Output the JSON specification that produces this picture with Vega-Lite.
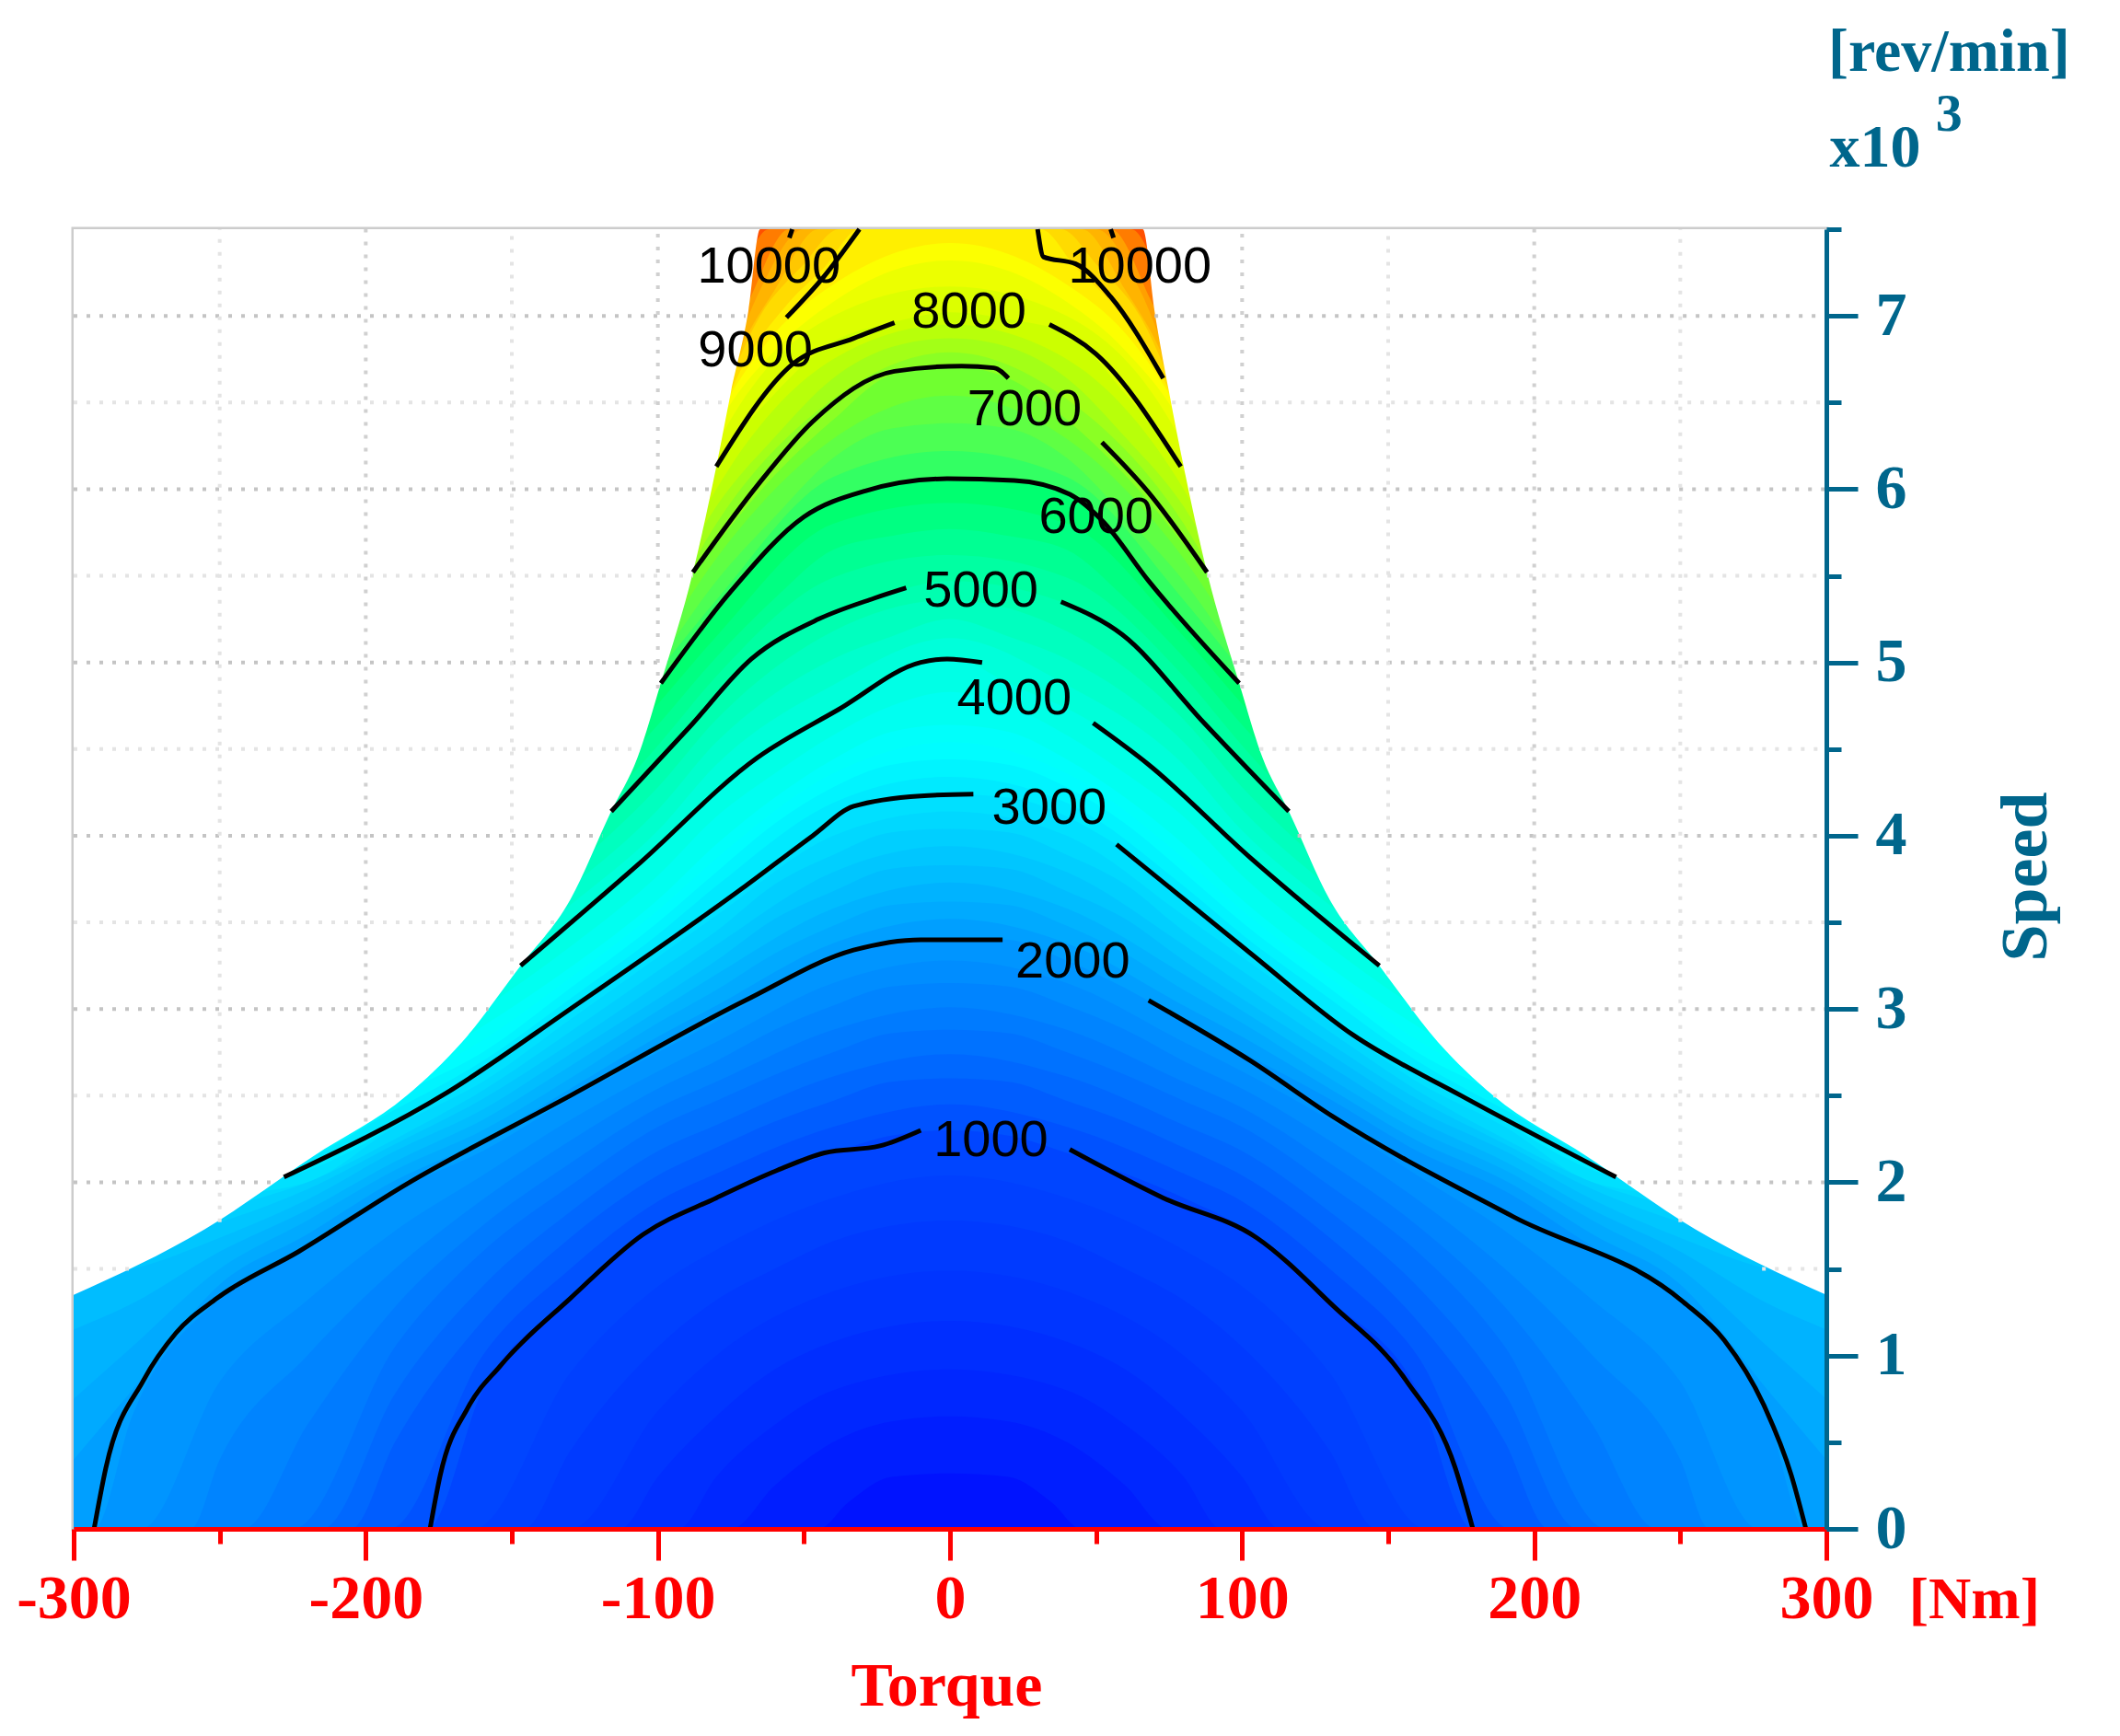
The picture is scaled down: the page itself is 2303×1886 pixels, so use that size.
{"$schema":"https://vega.github.io/schema/vega-lite/v6.json","autosize":"none","padding":{"left":80,"top":249,"right":319,"bottom":225},"width":1904,"height":1412,"background":"white","view":{"stroke":"#cccccc","strokeWidth":5},
"datasets":{
"levels":[
{"l":11000,"t":-300,"s":7.5},{"l":11000,"t":300,"s":7.5},
{"l":10500,"t":-300,"s":2},{"l":10500,"t":-75,"s":7.1},{"l":10500,"t":-62,"s":7.5},{"l":10500,"t":62,"s":7.5},{"l":10500,"t":75,"s":7.1},{"l":10500,"t":300,"s":2},
{"l":10000,"t":-300,"s":2},{"l":10000,"t":-70,"s":7.05},{"l":10000,"t":-55,"s":7.5},{"l":10000,"t":55,"s":7.5},{"l":10000,"t":70,"s":7.05},{"l":10000,"t":300,"s":2},
{"l":9750,"t":-300,"s":2},{"l":9750,"t":-78,"s":6.6},{"l":9750,"t":-65,"s":7.15},{"l":9750,"t":-50,"s":7.5},{"l":9750,"t":50,"s":7.5},{"l":9750,"t":65,"s":7.15},{"l":9750,"t":78,"s":6.6},{"l":9750,"t":300,"s":2},
{"l":9500,"t":-300,"s":2},{"l":9500,"t":-85,"s":6.2},{"l":9500,"t":-72,"s":6.8},{"l":9500,"t":-60,"s":7.15},{"l":9500,"t":-45,"s":7.5},{"l":9500,"t":45,"s":7.5},{"l":9500,"t":60,"s":7.15},{"l":9500,"t":72,"s":6.8},{"l":9500,"t":85,"s":6.2},{"l":9500,"t":300,"s":2},
{"l":9250,"t":-300,"s":2},{"l":9250,"t":-80,"s":6.45},{"l":9250,"t":-65,"s":7.0},{"l":9250,"t":-50,"s":7.3},{"l":9250,"t":-38,"s":7.5},{"l":9250,"t":38,"s":7.5},{"l":9250,"t":50,"s":7.3},{"l":9250,"t":65,"s":7.0},{"l":9250,"t":80,"s":6.45},{"l":9250,"t":300,"s":2},
{"l":9000,"t":-300,"s":2},{"l":9000,"t":-90,"s":5.9},{"l":9000,"t":-73,"s":6.64},{"l":9000,"t":-55,"s":7.08},{"l":9000,"t":-43,"s":7.28},{"l":9000,"t":-31,"s":7.5},{"l":9000,"t":31,"s":7.5},{"l":9000,"t":43,"s":7.28},{"l":9000,"t":55,"s":7.08},{"l":9000,"t":73,"s":6.64},{"l":9000,"t":90,"s":5.9},{"l":9000,"t":300,"s":2},
{"l":8750,"t":-300,"s":2},{"l":8750,"t":-100,"s":5.6},{"l":8750,"t":-80,"s":6.4},{"l":8750,"t":-60,"s":6.9},{"l":8750,"t":-40,"s":7.18},{"l":8750,"t":0,"s":7.42},{"l":8750,"t":40,"s":7.18},{"l":8750,"t":60,"s":6.9},{"l":8750,"t":80,"s":6.4},{"l":8750,"t":100,"s":5.6},{"l":8750,"t":300,"s":2},
{"l":8500,"t":-300,"s":2},{"l":8500,"t":-100,"s":5.5},{"l":8500,"t":-80,"s":6.35},{"l":8500,"t":-60,"s":6.8},{"l":8500,"t":-40,"s":7.08},{"l":8500,"t":-20,"s":7.26},{"l":8500,"t":0,"s":7.32},{"l":8500,"t":20,"s":7.26},{"l":8500,"t":40,"s":7.08},{"l":8500,"t":60,"s":6.8},{"l":8500,"t":80,"s":6.35},{"l":8500,"t":100,"s":5.5},{"l":8500,"t":300,"s":2},
{"l":8250,"t":-300,"s":2},{"l":8250,"t":-100,"s":5.45},{"l":8250,"t":-80,"s":6.25},{"l":8250,"t":-40,"s":7.0},{"l":8250,"t":0,"s":7.17},{"l":8250,"t":40,"s":7.0},{"l":8250,"t":80,"s":6.25},{"l":8250,"t":100,"s":5.45},{"l":8250,"t":300,"s":2},
{"l":8000,"t":-300,"s":2},{"l":8000,"t":-100,"s":5.4},{"l":8000,"t":-80,"s":6.13},{"l":8000,"t":-60,"s":6.55},{"l":8000,"t":-40,"s":6.85},{"l":8000,"t":-20,"s":6.96},{"l":8000,"t":0,"s":7.02},{"l":8000,"t":20,"s":6.98},{"l":8000,"t":40,"s":6.9},{"l":8000,"t":60,"s":6.55},{"l":8000,"t":79,"s":6.13},{"l":8000,"t":100,"s":5.4},{"l":8000,"t":300,"s":2},
{"l":7750,"t":-300,"s":2},{"l":7750,"t":-100,"s":5.35},{"l":7750,"t":-80,"s":6.0},{"l":7750,"t":-40,"s":6.75},{"l":7750,"t":0,"s":6.95},{"l":7750,"t":40,"s":6.75},{"l":7750,"t":80,"s":6.0},{"l":7750,"t":100,"s":5.35},{"l":7750,"t":300,"s":2},
{"l":7500,"t":-300,"s":2},{"l":7500,"t":-100,"s":5.3},{"l":7500,"t":-80,"s":5.9},{"l":7500,"t":-60,"s":6.3},{"l":7500,"t":-40,"s":6.64},{"l":7500,"t":-20,"s":6.82},{"l":7500,"t":0,"s":6.87},{"l":7500,"t":20,"s":6.82},{"l":7500,"t":40,"s":6.64},{"l":7500,"t":60,"s":6.3},{"l":7500,"t":80,"s":5.9},{"l":7500,"t":100,"s":5.3},{"l":7500,"t":300,"s":2},
{"l":7250,"t":-300,"s":2},{"l":7250,"t":-100,"s":5.2},{"l":7250,"t":-80,"s":5.8},{"l":7250,"t":-40,"s":6.52},{"l":7250,"t":0,"s":6.79},{"l":7250,"t":40,"s":6.52},{"l":7250,"t":80,"s":5.8},{"l":7250,"t":100,"s":5.2},{"l":7250,"t":300,"s":2},
{"l":7000,"t":-300,"s":2},{"l":7000,"t":-88,"s":5.52},{"l":7000,"t":-60,"s":6.08},{"l":7000,"t":-40,"s":6.4},{"l":7000,"t":-20,"s":6.66},{"l":7000,"t":0,"s":6.71},{"l":7000,"t":20,"s":6.64},{"l":7000,"t":40,"s":6.4},{"l":7000,"t":60,"s":6.08},{"l":7000,"t":88,"s":5.52},{"l":7000,"t":300,"s":2},
{"l":6750,"t":-300,"s":2},{"l":6750,"t":-100,"s":5.1},{"l":6750,"t":-80,"s":5.6},{"l":6750,"t":-40,"s":6.29},{"l":6750,"t":0,"s":6.54},{"l":6750,"t":40,"s":6.29},{"l":6750,"t":80,"s":5.6},{"l":6750,"t":100,"s":5.1},{"l":6750,"t":300,"s":2},
{"l":6500,"t":-300,"s":2},{"l":6500,"t":-100,"s":5.0},{"l":6500,"t":-80,"s":5.47},{"l":6500,"t":-60,"s":5.84},{"l":6500,"t":-40,"s":6.18},{"l":6500,"t":-20,"s":6.35},{"l":6500,"t":0,"s":6.38},{"l":6500,"t":20,"s":6.35},{"l":6500,"t":40,"s":6.18},{"l":6500,"t":60,"s":5.84},{"l":6500,"t":80,"s":5.47},{"l":6500,"t":100,"s":5.0},{"l":6500,"t":300,"s":2},
{"l":6250,"t":-300,"s":2},{"l":6250,"t":-100,"s":4.95},{"l":6250,"t":-80,"s":5.36},{"l":6250,"t":-40,"s":6.07},{"l":6250,"t":0,"s":6.22},{"l":6250,"t":40,"s":6.07},{"l":6250,"t":80,"s":5.36},{"l":6250,"t":100,"s":4.95},{"l":6250,"t":300,"s":2},
{"l":6000,"t":-300,"s":2},{"l":6000,"t":-99,"s":4.88},{"l":6000,"t":-75,"s":5.41},{"l":6000,"t":-50,"s":5.84},{"l":6000,"t":-29,"s":5.99},{"l":6000,"t":0,"s":6.06},{"l":6000,"t":22,"s":6.05},{"l":6000,"t":41,"s":5.97},{"l":6000,"t":52,"s":5.82},{"l":6000,"t":68,"s":5.47},{"l":6000,"t":99,"s":4.88},{"l":6000,"t":300,"s":2},
{"l":5750,"t":-300,"s":2},{"l":5750,"t":-100,"s":4.76},{"l":5750,"t":-80,"s":5.15},{"l":5750,"t":-40,"s":5.8},{"l":5750,"t":0,"s":5.92},{"l":5750,"t":40,"s":5.8},{"l":5750,"t":80,"s":5.15},{"l":5750,"t":100,"s":4.76},{"l":5750,"t":300,"s":2},
{"l":5500,"t":-300,"s":2},{"l":5500,"t":-100,"s":4.64},{"l":5500,"t":-80,"s":5.03},{"l":5500,"t":-60,"s":5.37},{"l":5500,"t":-40,"s":5.65},{"l":5500,"t":-20,"s":5.73},{"l":5500,"t":0,"s":5.77},{"l":5500,"t":20,"s":5.73},{"l":5500,"t":40,"s":5.65},{"l":5500,"t":60,"s":5.37},{"l":5500,"t":80,"s":5.03},{"l":5500,"t":100,"s":4.64},{"l":5500,"t":300,"s":2},
{"l":5250,"t":-300,"s":2},{"l":5250,"t":-100,"s":4.52},{"l":5250,"t":-80,"s":4.92},{"l":5250,"t":-40,"s":5.49},{"l":5250,"t":0,"s":5.62},{"l":5250,"t":40,"s":5.49},{"l":5250,"t":80,"s":4.92},{"l":5250,"t":100,"s":4.52},{"l":5250,"t":300,"s":2},
{"l":5000,"t":-300,"s":2},{"l":5000,"t":-116,"s":4.14},{"l":5000,"t":-89,"s":4.63},{"l":5000,"t":-68,"s":5.02},{"l":5000,"t":-45,"s":5.25},{"l":5000,"t":-26,"s":5.37},{"l":5000,"t":0,"s":5.47},{"l":5000,"t":38,"s":5.35},{"l":5000,"t":59,"s":5.16},{"l":5000,"t":87,"s":4.65},{"l":5000,"t":116,"s":4.14},{"l":5000,"t":300,"s":2},
{"l":4750,"t":-300,"s":2},{"l":4750,"t":-130,"s":3.8},{"l":4750,"t":-100,"s":4.28},{"l":4750,"t":-80,"s":4.67},{"l":4750,"t":-40,"s":5.18},{"l":4750,"t":0,"s":5.36},{"l":4750,"t":40,"s":5.18},{"l":4750,"t":80,"s":4.67},{"l":4750,"t":100,"s":4.28},{"l":4750,"t":130,"s":3.8},{"l":4750,"t":300,"s":2},
{"l":4500,"t":-300,"s":2},{"l":4500,"t":-130,"s":3.7},{"l":4500,"t":-100,"s":4.15},{"l":4500,"t":-80,"s":4.54},{"l":4500,"t":-60,"s":4.82},{"l":4500,"t":-40,"s":5.02},{"l":4500,"t":-20,"s":5.15},{"l":4500,"t":0,"s":5.25},{"l":4500,"t":20,"s":5.15},{"l":4500,"t":40,"s":5.02},{"l":4500,"t":60,"s":4.82},{"l":4500,"t":80,"s":4.54},{"l":4500,"t":100,"s":4.15},{"l":4500,"t":130,"s":3.7},{"l":4500,"t":300,"s":2},
{"l":4250,"t":-300,"s":2},{"l":4250,"t":-130,"s":3.6},{"l":4250,"t":-100,"s":4.03},{"l":4250,"t":-80,"s":4.41},{"l":4250,"t":-40,"s":4.87},{"l":4250,"t":0,"s":5.14},{"l":4250,"t":40,"s":4.87},{"l":4250,"t":80,"s":4.41},{"l":4250,"t":100,"s":4.03},{"l":4250,"t":130,"s":3.6},{"l":4250,"t":300,"s":2},
{"l":4000,"t":-300,"s":1.9},{"l":4000,"t":-147,"s":3.25},{"l":4000,"t":-107,"s":3.83},{"l":4000,"t":-66,"s":4.45},{"l":4000,"t":-38,"s":4.73},{"l":4000,"t":-10,"s":5.0},{"l":4000,"t":0,"s":5.03},{"l":4000,"t":20,"s":4.88},{"l":4000,"t":49,"s":4.65},{"l":4000,"t":68,"s":4.41},{"l":4000,"t":103,"s":3.87},{"l":4000,"t":147,"s":3.25},{"l":4000,"t":300,"s":1.9},
{"l":3750,"t":-300,"s":1.8},{"l":3750,"t":-160,"s":3.0},{"l":3750,"t":-130,"s":3.36},{"l":3750,"t":-100,"s":3.77},{"l":3750,"t":-80,"s":4.11},{"l":3750,"t":-60,"s":4.36},{"l":3750,"t":-40,"s":4.58},{"l":3750,"t":-20,"s":4.75},{"l":3750,"t":0,"s":4.83},{"l":3750,"t":20,"s":4.75},{"l":3750,"t":40,"s":4.58},{"l":3750,"t":60,"s":4.36},{"l":3750,"t":80,"s":4.11},{"l":3750,"t":100,"s":3.77},{"l":3750,"t":130,"s":3.36},{"l":3750,"t":160,"s":3.0},{"l":3750,"t":300,"s":1.8},
{"l":3500,"t":-300,"s":1.7},{"l":3500,"t":-190,"s":2.6},{"l":3500,"t":-160,"s":2.9},{"l":3500,"t":-130,"s":3.24},{"l":3500,"t":-100,"s":3.63},{"l":3500,"t":-80,"s":3.95},{"l":3500,"t":-60,"s":4.22},{"l":3500,"t":-40,"s":4.44},{"l":3500,"t":-20,"s":4.6},{"l":3500,"t":0,"s":4.64},{"l":3500,"t":20,"s":4.6},{"l":3500,"t":40,"s":4.44},{"l":3500,"t":60,"s":4.22},{"l":3500,"t":80,"s":3.95},{"l":3500,"t":100,"s":3.63},{"l":3500,"t":130,"s":3.24},{"l":3500,"t":160,"s":2.9},{"l":3500,"t":190,"s":2.6},{"l":3500,"t":300,"s":1.7},
{"l":3375,"t":-300,"s":2},{"l":3375,"t":-190,"s":2.55},{"l":3375,"t":-160,"s":2.82},{"l":3375,"t":-130,"s":3.18},{"l":3375,"t":-100,"s":3.57},{"l":3375,"t":-80,"s":3.87},{"l":3375,"t":-40,"s":4.36},{"l":3375,"t":0,"s":4.54},{"l":3375,"t":40,"s":4.36},{"l":3375,"t":80,"s":3.87},{"l":3375,"t":100,"s":3.57},{"l":3375,"t":130,"s":3.18},{"l":3375,"t":160,"s":2.82},{"l":3375,"t":190,"s":2.55},{"l":3375,"t":300,"s":2},
{"l":3250,"t":-300,"s":2},{"l":3250,"t":-250,"s":2.1},{"l":3250,"t":-190,"s":2.5},{"l":3250,"t":-160,"s":2.75},{"l":3250,"t":-130,"s":3.12},{"l":3250,"t":-100,"s":3.5},{"l":3250,"t":-80,"s":3.79},{"l":3250,"t":-60,"s":4.07},{"l":3250,"t":-40,"s":4.28},{"l":3250,"t":-20,"s":4.41},{"l":3250,"t":0,"s":4.44},{"l":3250,"t":20,"s":4.41},{"l":3250,"t":40,"s":4.28},{"l":3250,"t":60,"s":4.07},{"l":3250,"t":80,"s":3.79},{"l":3250,"t":100,"s":3.5},{"l":3250,"t":130,"s":3.12},{"l":3250,"t":160,"s":2.75},{"l":3250,"t":190,"s":2.5},{"l":3250,"t":250,"s":2.1},{"l":3250,"t":300,"s":2},
{"l":3125,"t":-300,"s":2},{"l":3125,"t":-228,"s":2.1},{"l":3125,"t":-190,"s":2.42},{"l":3125,"t":-160,"s":2.7},{"l":3125,"t":-130,"s":3.06},{"l":3125,"t":-100,"s":3.43},{"l":3125,"t":-80,"s":3.71},{"l":3125,"t":-40,"s":4.19},{"l":3125,"t":0,"s":4.34},{"l":3125,"t":40,"s":4.19},{"l":3125,"t":80,"s":3.71},{"l":3125,"t":100,"s":3.43},{"l":3125,"t":130,"s":3.06},{"l":3125,"t":160,"s":2.7},{"l":3125,"t":190,"s":2.42},{"l":3125,"t":228,"s":2.1},{"l":3125,"t":300,"s":2},
{"l":3000,"t":-300,"s":1.9},{"l":3000,"t":-228,"s":2.03},{"l":3000,"t":-172,"s":2.52},{"l":3000,"t":-130,"s":3.0},{"l":3000,"t":-100,"s":3.37},{"l":3000,"t":-70,"s":3.71},{"l":3000,"t":-47,"s":4.0},{"l":3000,"t":-33,"s":4.17},{"l":3000,"t":0,"s":4.24},{"l":3000,"t":20,"s":4.22},{"l":3000,"t":57,"s":3.95},{"l":3000,"t":103,"s":3.32},{"l":3000,"t":138,"s":2.85},{"l":3000,"t":175,"s":2.5},{"l":3000,"t":228,"s":2.03},{"l":3000,"t":300,"s":1.9},
{"l":2875,"t":-300,"s":1.8},{"l":2875,"t":-250,"s":1.92},{"l":2875,"t":-220,"s":2.0},{"l":2875,"t":-190,"s":2.32},{"l":2875,"t":-160,"s":2.58},{"l":2875,"t":-130,"s":2.94},{"l":2875,"t":-100,"s":3.3},{"l":2875,"t":-80,"s":3.54},{"l":2875,"t":-40,"s":4.0},{"l":2875,"t":0,"s":4.14},{"l":2875,"t":40,"s":4.0},{"l":2875,"t":80,"s":3.54},{"l":2875,"t":100,"s":3.3},{"l":2875,"t":130,"s":2.94},{"l":2875,"t":160,"s":2.58},{"l":2875,"t":190,"s":2.32},{"l":2875,"t":220,"s":2.0},{"l":2875,"t":250,"s":1.92},{"l":2875,"t":300,"s":1.8},
{"l":2750,"t":-300,"s":1.7},{"l":2750,"t":-250,"s":1.85},{"l":2750,"t":-220,"s":2.0},{"l":2750,"t":-190,"s":2.25},{"l":2750,"t":-160,"s":2.53},{"l":2750,"t":-130,"s":2.87},{"l":2750,"t":-100,"s":3.22},{"l":2750,"t":-80,"s":3.45},{"l":2750,"t":-60,"s":3.72},{"l":2750,"t":-40,"s":3.89},{"l":2750,"t":-20,"s":4.02},{"l":2750,"t":0,"s":4.04},{"l":2750,"t":20,"s":4.02},{"l":2750,"t":40,"s":3.89},{"l":2750,"t":60,"s":3.72},{"l":2750,"t":80,"s":3.45},{"l":2750,"t":100,"s":3.22},{"l":2750,"t":130,"s":2.87},{"l":2750,"t":160,"s":2.53},{"l":2750,"t":190,"s":2.25},{"l":2750,"t":220,"s":2.0},{"l":2750,"t":250,"s":1.85},{"l":2750,"t":300,"s":1.7},
{"l":2625,"t":-300,"s":1.6},{"l":2625,"t":-250,"s":1.77},{"l":2625,"t":-220,"s":1.96},{"l":2625,"t":-190,"s":2.22},{"l":2625,"t":-160,"s":2.48},{"l":2625,"t":-130,"s":2.8},{"l":2625,"t":-100,"s":3.14},{"l":2625,"t":-80,"s":3.37},{"l":2625,"t":-40,"s":3.79},{"l":2625,"t":0,"s":3.94},{"l":2625,"t":40,"s":3.79},{"l":2625,"t":80,"s":3.37},{"l":2625,"t":100,"s":3.14},{"l":2625,"t":130,"s":2.8},{"l":2625,"t":160,"s":2.48},{"l":2625,"t":190,"s":2.22},{"l":2625,"t":220,"s":1.96},{"l":2625,"t":250,"s":1.77},{"l":2625,"t":300,"s":1.6},
{"l":2500,"t":-300,"s":1.45},{"l":2500,"t":-280,"s":1.5},{"l":2500,"t":-250,"s":1.68},{"l":2500,"t":-220,"s":1.9},{"l":2500,"t":-190,"s":2.18},{"l":2500,"t":-160,"s":2.42},{"l":2500,"t":-130,"s":2.74},{"l":2500,"t":-100,"s":3.06},{"l":2500,"t":-80,"s":3.28},{"l":2500,"t":-60,"s":3.52},{"l":2500,"t":-40,"s":3.68},{"l":2500,"t":-20,"s":3.81},{"l":2500,"t":0,"s":3.83},{"l":2500,"t":20,"s":3.81},{"l":2500,"t":40,"s":3.68},{"l":2500,"t":60,"s":3.52},{"l":2500,"t":80,"s":3.28},{"l":2500,"t":100,"s":3.06},{"l":2500,"t":130,"s":2.74},{"l":2500,"t":160,"s":2.42},{"l":2500,"t":190,"s":2.18},{"l":2500,"t":220,"s":1.9},{"l":2500,"t":250,"s":1.68},{"l":2500,"t":280,"s":1.5},{"l":2500,"t":300,"s":1.45},
{"l":2375,"t":-300,"s":1.15},{"l":2375,"t":-280,"s":1.3},{"l":2375,"t":-250,"s":1.6},{"l":2375,"t":-220,"s":1.84},{"l":2375,"t":-190,"s":2.12},{"l":2375,"t":-160,"s":2.36},{"l":2375,"t":-130,"s":2.67},{"l":2375,"t":-100,"s":2.99},{"l":2375,"t":-80,"s":3.2},{"l":2375,"t":-40,"s":3.58},{"l":2375,"t":0,"s":3.73},{"l":2375,"t":40,"s":3.58},{"l":2375,"t":80,"s":3.2},{"l":2375,"t":100,"s":2.99},{"l":2375,"t":130,"s":2.67},{"l":2375,"t":160,"s":2.36},{"l":2375,"t":190,"s":2.12},{"l":2375,"t":220,"s":1.84},{"l":2375,"t":250,"s":1.6},{"l":2375,"t":280,"s":1.3},{"l":2375,"t":300,"s":1.15},
{"l":2250,"t":-300,"s":0.75},{"l":2250,"t":-280,"s":1.05},{"l":2250,"t":-250,"s":1.5},{"l":2250,"t":-220,"s":1.78},{"l":2250,"t":-190,"s":2.07},{"l":2250,"t":-160,"s":2.3},{"l":2250,"t":-130,"s":2.6},{"l":2250,"t":-100,"s":2.92},{"l":2250,"t":-80,"s":3.11},{"l":2250,"t":-60,"s":3.32},{"l":2250,"t":-40,"s":3.48},{"l":2250,"t":-20,"s":3.6},{"l":2250,"t":0,"s":3.62},{"l":2250,"t":20,"s":3.6},{"l":2250,"t":40,"s":3.48},{"l":2250,"t":60,"s":3.32},{"l":2250,"t":80,"s":3.11},{"l":2250,"t":100,"s":2.92},{"l":2250,"t":130,"s":2.6},{"l":2250,"t":160,"s":2.3},{"l":2250,"t":190,"s":2.07},{"l":2250,"t":220,"s":1.78},{"l":2250,"t":250,"s":1.5},{"l":2250,"t":280,"s":1.05},{"l":2250,"t":300,"s":0.75},
{"l":2125,"t":-300,"s":0.4},{"l":2125,"t":-280,"s":0.8},{"l":2125,"t":-250,"s":1.41},{"l":2125,"t":-220,"s":1.7},{"l":2125,"t":-190,"s":2.01},{"l":2125,"t":-160,"s":2.24},{"l":2125,"t":-130,"s":2.54},{"l":2125,"t":-100,"s":2.84},{"l":2125,"t":-80,"s":3.02},{"l":2125,"t":-40,"s":3.38},{"l":2125,"t":0,"s":3.52},{"l":2125,"t":40,"s":3.38},{"l":2125,"t":80,"s":3.02},{"l":2125,"t":100,"s":2.84},{"l":2125,"t":130,"s":2.54},{"l":2125,"t":160,"s":2.24},{"l":2125,"t":190,"s":2.01},{"l":2125,"t":220,"s":1.7},{"l":2125,"t":250,"s":1.41},{"l":2125,"t":280,"s":0.8},{"l":2125,"t":300,"s":0.4},
{"l":2000,"t":-300,"s":0},{"l":2000,"t":-293,"s":0},{"l":2000,"t":-280,"s":0.65},{"l":2000,"t":-250,"s":1.33},{"l":2000,"t":-220,"s":1.63},{"l":2000,"t":-190,"s":1.95},{"l":2000,"t":-160,"s":2.18},{"l":2000,"t":-130,"s":2.48},{"l":2000,"t":-100,"s":2.75},{"l":2000,"t":-80,"s":2.93},{"l":2000,"t":-60,"s":3.12},{"l":2000,"t":-40,"s":3.28},{"l":2000,"t":-20,"s":3.38},{"l":2000,"t":0,"s":3.41},{"l":2000,"t":20,"s":3.4},{"l":2000,"t":40,"s":3.28},{"l":2000,"t":60,"s":3.12},{"l":2000,"t":80,"s":2.93},{"l":2000,"t":100,"s":2.75},{"l":2000,"t":130,"s":2.48},{"l":2000,"t":160,"s":2.18},{"l":2000,"t":190,"s":1.95},{"l":2000,"t":220,"s":1.63},{"l":2000,"t":250,"s":1.33},{"l":2000,"t":280,"s":0.65},{"l":2000,"t":293,"s":0},{"l":2000,"t":300,"s":0},
{"l":1875,"t":-300,"s":0},{"l":1875,"t":-277,"s":0},{"l":1875,"t":-250,"s":0.85},{"l":1875,"t":-220,"s":1.32},{"l":1875,"t":-190,"s":1.72},{"l":1875,"t":-160,"s":2.04},{"l":1875,"t":-130,"s":2.36},{"l":1875,"t":-100,"s":2.64},{"l":1875,"t":-80,"s":2.81},{"l":1875,"t":-40,"s":3.15},{"l":1875,"t":0,"s":3.28},{"l":1875,"t":40,"s":3.15},{"l":1875,"t":80,"s":2.81},{"l":1875,"t":100,"s":2.64},{"l":1875,"t":130,"s":2.36},{"l":1875,"t":160,"s":2.04},{"l":1875,"t":190,"s":1.72},{"l":1875,"t":220,"s":1.32},{"l":1875,"t":250,"s":0.85},{"l":1875,"t":277,"s":0},{"l":1875,"t":300,"s":0},
{"l":1750,"t":-300,"s":0},{"l":1750,"t":-260,"s":0},{"l":1750,"t":-250,"s":0.4},{"l":1750,"t":-220,"s":1.0},{"l":1750,"t":-190,"s":1.5},{"l":1750,"t":-160,"s":1.9},{"l":1750,"t":-130,"s":2.24},{"l":1750,"t":-100,"s":2.54},{"l":1750,"t":-80,"s":2.7},{"l":1750,"t":-60,"s":2.88},{"l":1750,"t":-40,"s":3.02},{"l":1750,"t":-20,"s":3.13},{"l":1750,"t":0,"s":3.15},{"l":1750,"t":20,"s":3.13},{"l":1750,"t":40,"s":3.02},{"l":1750,"t":60,"s":2.88},{"l":1750,"t":80,"s":2.7},{"l":1750,"t":100,"s":2.54},{"l":1750,"t":130,"s":2.24},{"l":1750,"t":160,"s":1.9},{"l":1750,"t":190,"s":1.5},{"l":1750,"t":220,"s":1.0},{"l":1750,"t":250,"s":0.4},{"l":1750,"t":260,"s":0},{"l":1750,"t":300,"s":0},
{"l":1625,"t":-300,"s":0},{"l":1625,"t":-242,"s":0},{"l":1625,"t":-220,"s":0.6},{"l":1625,"t":-190,"s":1.28},{"l":1625,"t":-160,"s":1.75},{"l":1625,"t":-130,"s":2.11},{"l":1625,"t":-100,"s":2.43},{"l":1625,"t":-80,"s":2.58},{"l":1625,"t":-40,"s":2.88},{"l":1625,"t":0,"s":3.01},{"l":1625,"t":40,"s":2.88},{"l":1625,"t":80,"s":2.58},{"l":1625,"t":100,"s":2.43},{"l":1625,"t":130,"s":2.11},{"l":1625,"t":160,"s":1.75},{"l":1625,"t":190,"s":1.28},{"l":1625,"t":220,"s":0.6},{"l":1625,"t":242,"s":0},{"l":1625,"t":300,"s":0},
{"l":1500,"t":-300,"s":0},{"l":1500,"t":-225,"s":0},{"l":1500,"t":-190,"s":1.05},{"l":1500,"t":-160,"s":1.6},{"l":1500,"t":-130,"s":1.98},{"l":1500,"t":-100,"s":2.32},{"l":1500,"t":-80,"s":2.47},{"l":1500,"t":-60,"s":2.62},{"l":1500,"t":-40,"s":2.75},{"l":1500,"t":-20,"s":2.86},{"l":1500,"t":0,"s":2.88},{"l":1500,"t":20,"s":2.86},{"l":1500,"t":40,"s":2.75},{"l":1500,"t":60,"s":2.62},{"l":1500,"t":80,"s":2.47},{"l":1500,"t":100,"s":2.32},{"l":1500,"t":130,"s":1.98},{"l":1500,"t":160,"s":1.6},{"l":1500,"t":190,"s":1.05},{"l":1500,"t":225,"s":0},{"l":1500,"t":300,"s":0},
{"l":1375,"t":-300,"s":0},{"l":1375,"t":-215,"s":0},{"l":1375,"t":-190,"s":0.78},{"l":1375,"t":-160,"s":1.4},{"l":1375,"t":-130,"s":1.83},{"l":1375,"t":-100,"s":2.18},{"l":1375,"t":-80,"s":2.33},{"l":1375,"t":-40,"s":2.61},{"l":1375,"t":0,"s":2.74},{"l":1375,"t":40,"s":2.61},{"l":1375,"t":80,"s":2.33},{"l":1375,"t":100,"s":2.18},{"l":1375,"t":130,"s":1.83},{"l":1375,"t":160,"s":1.4},{"l":1375,"t":190,"s":0.78},{"l":1375,"t":215,"s":0},{"l":1375,"t":300,"s":0},
{"l":1250,"t":-300,"s":0},{"l":1250,"t":-205,"s":0},{"l":1250,"t":-190,"s":0.5},{"l":1250,"t":-160,"s":1.2},{"l":1250,"t":-130,"s":1.68},{"l":1250,"t":-100,"s":2.04},{"l":1250,"t":-80,"s":2.2},{"l":1250,"t":-60,"s":2.35},{"l":1250,"t":-40,"s":2.47},{"l":1250,"t":-20,"s":2.58},{"l":1250,"t":0,"s":2.6},{"l":1250,"t":20,"s":2.58},{"l":1250,"t":40,"s":2.47},{"l":1250,"t":60,"s":2.35},{"l":1250,"t":80,"s":2.2},{"l":1250,"t":100,"s":2.04},{"l":1250,"t":130,"s":1.68},{"l":1250,"t":160,"s":1.2},{"l":1250,"t":190,"s":0.5},{"l":1250,"t":205,"s":0},{"l":1250,"t":300,"s":0},
{"l":1125,"t":-300,"s":0},{"l":1125,"t":-192,"s":0},{"l":1125,"t":-160,"s":1.0},{"l":1125,"t":-130,"s":1.5},{"l":1125,"t":-100,"s":1.89},{"l":1125,"t":-80,"s":2.05},{"l":1125,"t":-40,"s":2.32},{"l":1125,"t":0,"s":2.45},{"l":1125,"t":40,"s":2.32},{"l":1125,"t":80,"s":2.05},{"l":1125,"t":100,"s":1.89},{"l":1125,"t":130,"s":1.5},{"l":1125,"t":160,"s":1.0},{"l":1125,"t":192,"s":0},{"l":1125,"t":300,"s":0},
{"l":1000,"t":-300,"s":0},{"l":1000,"t":-179,"s":0},{"l":1000,"t":-160,"s":0.8},{"l":1000,"t":-130,"s":1.32},{"l":1000,"t":-100,"s":1.74},{"l":1000,"t":-80,"s":1.91},{"l":1000,"t":-60,"s":2.05},{"l":1000,"t":-40,"s":2.17},{"l":1000,"t":-20,"s":2.27},{"l":1000,"t":0,"s":2.3},{"l":1000,"t":20,"s":2.27},{"l":1000,"t":40,"s":2.17},{"l":1000,"t":60,"s":2.05},{"l":1000,"t":80,"s":1.91},{"l":1000,"t":100,"s":1.74},{"l":1000,"t":130,"s":1.32},{"l":1000,"t":160,"s":0.8},{"l":1000,"t":179,"s":0},{"l":1000,"t":300,"s":0},
{"l":875,"t":-300,"s":0},{"l":875,"t":-163,"s":0},{"l":875,"t":-130,"s":0.9},{"l":875,"t":-100,"s":1.4},{"l":875,"t":-80,"s":1.61},{"l":875,"t":-40,"s":1.91},{"l":875,"t":0,"s":2.04},{"l":875,"t":40,"s":1.91},{"l":875,"t":80,"s":1.61},{"l":875,"t":100,"s":1.4},{"l":875,"t":130,"s":0.9},{"l":875,"t":163,"s":0},{"l":875,"t":300,"s":0},
{"l":750,"t":-300,"s":0},{"l":750,"t":-146,"s":0},{"l":750,"t":-130,"s":0.45},{"l":750,"t":-100,"s":1.05},{"l":750,"t":-80,"s":1.32},{"l":750,"t":-60,"s":1.5},{"l":750,"t":-40,"s":1.66},{"l":750,"t":-20,"s":1.75},{"l":750,"t":0,"s":1.78},{"l":750,"t":20,"s":1.75},{"l":750,"t":40,"s":1.66},{"l":750,"t":60,"s":1.5},{"l":750,"t":80,"s":1.32},{"l":750,"t":100,"s":1.05},{"l":750,"t":130,"s":0.45},{"l":750,"t":146,"s":0},{"l":750,"t":300,"s":0},
{"l":625,"t":-300,"s":0},{"l":625,"t":-130,"s":0},{"l":625,"t":-100,"s":0.68},{"l":625,"t":-80,"s":1.0},{"l":625,"t":-40,"s":1.37},{"l":625,"t":0,"s":1.49},{"l":625,"t":40,"s":1.37},{"l":625,"t":80,"s":1.0},{"l":625,"t":100,"s":0.68},{"l":625,"t":130,"s":0},{"l":625,"t":300,"s":0},
{"l":500,"t":-300,"s":0},{"l":500,"t":-113,"s":0},{"l":500,"t":-100,"s":0.3},{"l":500,"t":-80,"s":0.65},{"l":500,"t":-60,"s":0.92},{"l":500,"t":-40,"s":1.08},{"l":500,"t":-20,"s":1.17},{"l":500,"t":0,"s":1.2},{"l":500,"t":20,"s":1.17},{"l":500,"t":40,"s":1.08},{"l":500,"t":60,"s":0.92},{"l":500,"t":80,"s":0.65},{"l":500,"t":100,"s":0.3},{"l":500,"t":113,"s":0},{"l":500,"t":300,"s":0},
{"l":375,"t":-300,"s":0},{"l":375,"t":-93,"s":0},{"l":375,"t":-80,"s":0.3},{"l":375,"t":-60,"s":0.6},{"l":375,"t":-40,"s":0.8},{"l":375,"t":0,"s":0.92},{"l":375,"t":40,"s":0.8},{"l":375,"t":60,"s":0.6},{"l":375,"t":80,"s":0.3},{"l":375,"t":93,"s":0},{"l":375,"t":300,"s":0},
{"l":250,"t":-300,"s":0},{"l":250,"t":-75,"s":0},{"l":250,"t":-60,"s":0.25},{"l":250,"t":-40,"s":0.5},{"l":250,"t":-20,"s":0.62},{"l":250,"t":0,"s":0.65},{"l":250,"t":20,"s":0.62},{"l":250,"t":40,"s":0.5},{"l":250,"t":60,"s":0.25},{"l":250,"t":75,"s":0},{"l":250,"t":300,"s":0},
{"l":125,"t":-300,"s":0},{"l":125,"t":-45,"s":0},{"l":125,"t":-35,"s":0.15},{"l":125,"t":-20,"s":0.3},{"l":125,"t":0,"s":0.32},{"l":125,"t":20,"s":0.3},{"l":125,"t":35,"s":0.15},{"l":125,"t":45,"s":0},{"l":125,"t":300,"s":0}
],
"envelope":[
{"t":-300,"s":1.35,"s2":7.5},{"t":-255,"s":1.73,"s2":7.5},{"t":-218,"s":2.15,"s2":7.5},{"t":-186,"s":2.5,"s2":7.5},{"t":-167,"s":2.81,"s2":7.5},{"t":-147,"s":3.25,"s2":7.5},{"t":-130,"s":3.63,"s2":7.5},{"t":-116,"s":4.14,"s2":7.5},{"t":-107,"s":4.45,"s2":7.5},{"t":-99,"s":4.88,"s2":7.5},{"t":-88,"s":5.52,"s2":7.5},{"t":-80,"s":6.13,"s2":7.5},{"t":-75,"s":6.56,"s2":7.5},{"t":-69,"s":7.03,"s2":7.5},{"t":-65,"s":7.5,"s2":7.5},
{"t":66,"s":7.5,"s2":7.5},{"t":70,"s":7.03,"s2":7.5},{"t":75,"s":6.56,"s2":7.5},{"t":80,"s":6.13,"s2":7.5},{"t":88,"s":5.52,"s2":7.5},{"t":99,"s":4.88,"s2":7.5},{"t":107,"s":4.45,"s2":7.5},{"t":116,"s":4.14,"s2":7.5},{"t":130,"s":3.63,"s2":7.5},{"t":147,"s":3.25,"s2":7.5},{"t":167,"s":2.81,"s2":7.5},{"t":186,"s":2.5,"s2":7.5},{"t":218,"s":2.15,"s2":7.5},{"t":255,"s":1.73,"s2":7.5},{"t":300,"s":1.35,"s2":7.5}
],
"gridH":[
{"s":1.5,"t":-300,"t2":-278},{"s":1.5,"t":278,"t2":300},{"s":2,"t":-300,"t2":-232},{"s":2,"t":232,"t2":300},{"s":2.5,"t":-300,"t2":-186},{"s":2.5,"t":186,"t2":300},{"s":3,"t":-300,"t2":-158},{"s":3,"t":158,"t2":300},{"s":3.5,"t":-300,"t2":-135},{"s":3.5,"t":135,"t2":300},{"s":4,"t":-300,"t2":-119},{"s":4,"t":119,"t2":300},{"s":4.5,"t":-300,"t2":-106},{"s":4.5,"t":106,"t2":300},{"s":5,"t":-300,"t2":-97},{"s":5,"t":97,"t2":300},{"s":5.5,"t":-300,"t2":-88},{"s":5.5,"t":88,"t2":300},{"s":6,"t":-300,"t2":-82},{"s":6,"t":82,"t2":300},{"s":6.5,"t":-300,"t2":-76},{"s":6.5,"t":76,"t2":300},{"s":7,"t":-300,"t2":-70},{"s":7,"t":70,"t2":300}
],
"gridV":[
{"t":-250,"s":1.77,"s2":7.5},{"t":-200,"s":2.35,"s2":7.5},{"t":-150,"s":3.2,"s2":7.5},{"t":-100,"s":4.85,"s2":7.5},{"t":100,"s":4.85,"s2":7.5},{"t":150,"s":3.2,"s2":7.5},{"t":200,"s":2.35,"s2":7.5},{"t":250,"s":1.77,"s2":7.5}
],
"contours":[
{"seg":"1000L","t":-178,"s":0},{"seg":"1000L","t":-174.5,"s":0.31},{"seg":"1000L","t":-165,"s":0.7},{"seg":"1000L","t":-154,"s":0.94},{"seg":"1000L","t":-130,"s":1.33},{"seg":"1000L","t":-105,"s":1.7},{"seg":"1000L","t":-80,"s":1.91},{"seg":"1000L","t":-59,"s":2.07},{"seg":"1000L","t":-43,"s":2.17},{"seg":"1000L","t":-24,"s":2.21},{"seg":"1000L","t":-10,"s":2.3},
{"seg":"1000R","t":41,"s":2.19},{"seg":"1000R","t":73,"s":1.91},{"seg":"1000R","t":105,"s":1.68},{"seg":"1000R","t":131,"s":1.29},{"seg":"1000R","t":156,"s":0.86},{"seg":"1000R","t":173,"s":0.35},{"seg":"1000R","t":179,"s":0},
{"seg":"2000L","t":-293,"s":0},{"seg":"2000L","t":-289,"s":0.35},{"seg":"2000L","t":-276,"s":0.86},{"seg":"2000L","t":-265,"s":1.13},{"seg":"2000L","t":-251,"s":1.33},{"seg":"2000L","t":-223,"s":1.6},{"seg":"2000L","t":-186,"s":1.99},{"seg":"2000L","t":-130,"s":2.5},{"seg":"2000L","t":-70,"s":3.05},{"seg":"2000L","t":-33,"s":3.34},{"seg":"2000L","t":-10,"s":3.4},{"seg":"2000L","t":18,"s":3.4},
{"seg":"2000R","t":68,"s":3.05},{"seg":"2000R","t":103,"s":2.7},{"seg":"2000R","t":131,"s":2.38},{"seg":"2000R","t":193,"s":1.8},{"seg":"2000R","t":251,"s":1.31},{"seg":"2000R","t":265,"s":1.09},{"seg":"2000R","t":279,"s":0.7},{"seg":"2000R","t":288,"s":0.31},{"seg":"2000R","t":293,"s":0},
{"seg":"3000L","t":-228,"s":2.03},{"seg":"3000L","t":-172,"s":2.52},{"seg":"3000L","t":-130,"s":3.0},{"seg":"3000L","t":-70,"s":3.71},{"seg":"3000L","t":-47,"s":4.0},{"seg":"3000L","t":-33,"s":4.17},{"seg":"3000L","t":-10,"s":4.23},{"seg":"3000L","t":8,"s":4.24},
{"seg":"3000R","t":57,"s":3.95},{"seg":"3000R","t":103,"s":3.32},{"seg":"3000R","t":138,"s":2.85},{"seg":"3000R","t":175,"s":2.5},{"seg":"3000R","t":228,"s":2.03},
{"seg":"4000L","t":-147,"s":3.25},{"seg":"4000L","t":-107,"s":3.83},{"seg":"4000L","t":-66,"s":4.45},{"seg":"4000L","t":-38,"s":4.73},{"seg":"4000L","t":-10,"s":5.0},{"seg":"4000L","t":-1,"s":5.02},{"seg":"4000L","t":11,"s":5.0},
{"seg":"4000R","t":49,"s":4.65},{"seg":"4000R","t":68,"s":4.41},{"seg":"4000R","t":103,"s":3.87},{"seg":"4000R","t":147,"s":3.25},
{"seg":"5000L","t":-116,"s":4.14},{"seg":"5000L","t":-89,"s":4.63},{"seg":"5000L","t":-68,"s":5.02},{"seg":"5000L","t":-45,"s":5.25},{"seg":"5000L","t":-26,"s":5.37},{"seg":"5000L","t":-15,"s":5.43},
{"seg":"5000R","t":38,"s":5.35},{"seg":"5000R","t":59,"s":5.16},{"seg":"5000R","t":87,"s":4.65},{"seg":"5000R","t":116,"s":4.14},
{"seg":"6000","t":-99,"s":4.88},{"seg":"6000","t":-75,"s":5.41},{"seg":"6000","t":-50,"s":5.84},{"seg":"6000","t":-29,"s":5.99},{"seg":"6000","t":-1,"s":6.06},{"seg":"6000","t":22,"s":6.05},{"seg":"6000","t":41,"s":5.97},{"seg":"6000","t":52,"s":5.82},{"seg":"6000","t":68,"s":5.47},{"seg":"6000","t":99,"s":4.88},
{"seg":"7000L","t":-88,"s":5.52},{"seg":"7000L","t":-66,"s":6.02},{"seg":"7000L","t":-47,"s":6.39},{"seg":"7000L","t":-19,"s":6.68},{"seg":"7000L","t":4,"s":6.71},{"seg":"7000L","t":15,"s":6.7},{"seg":"7000L","t":20,"s":6.64},
{"seg":"7000R","t":52,"s":6.27},{"seg":"7000R","t":68,"s":5.98},{"seg":"7000R","t":88,"s":5.52},
{"seg":"8000L","t":-80,"s":6.13},{"seg":"8000L","t":-54,"s":6.72},{"seg":"8000L","t":-33,"s":6.87},{"seg":"8000L","t":-19,"s":6.96},
{"seg":"8000R","t":34,"s":6.95},{"seg":"8000R","t":50,"s":6.78},{"seg":"8000R","t":79,"s":6.13},
{"seg":"9000L","t":-56,"s":6.99},{"seg":"9000L","t":-43,"s":7.23},{"seg":"9000L","t":-31,"s":7.5},
{"seg":"9000R","t":30,"s":7.5},{"seg":"9000R","t":32,"s":7.34},{"seg":"9000R","t":43,"s":7.3},{"seg":"9000R","t":55,"s":7.11},{"seg":"9000R","t":73,"s":6.64},
{"seg":"10000L","t":-55,"s":7.45},{"seg":"10000L","t":-54,"s":7.5},
{"seg":"10000R","t":55,"s":7.5},{"seg":"10000R","t":56,"s":7.45}
],
"labels":[
{"t":14,"s":2.24,"label":"1000"},{"t":42,"s":3.27,"label":"2000"},{"t":34,"s":4.16,"label":"3000"},{"t":22,"s":4.79,"label":"4000"},{"t":10.6,"s":5.41,"label":"5000"},{"t":50,"s":5.84,"label":"6000"},{"t":25.5,"s":6.46,"label":"7000"},{"t":6.5,"s":7.02,"label":"8000"},{"t":-66.6,"s":6.8,"label":"9000"},{"t":-62,"s":7.28,"label":"10000"},{"t":65,"s":7.28,"label":"10000"}
]
},
"encoding":{
"x":{"field":"t","type":"quantitative","scale":{"domain":[-300,300],"nice":false,"zero":false},
"axis":{"title":"Torque","titleFont":"Liberation Serif","titleFontWeight":"bold","titleFontSize":68,"titleColor":"#ff0000","titleBaseline":"middle","titleY":171,"titleX":948,"orient":"bottom","zindex":2,"grid":false,"values":[-300,-250,-200,-150,-100,-50,0,50,100,150,200,250,300],"labelExpr":"datum.value % 100 === 0 ? '' + datum.value : ''","labelFont":"Liberation Serif","labelFontWeight":"bold","labelFontSize":68,"labelColor":"#ff0000","labelPadding":8,"labelOverlap":false,"labelBound":false,"labelFlush":false,"domainColor":"#ff0000","domainWidth":5,"tickColor":"#ff0000","tickWidth":5,"tickSize":{"condition":{"test":"datum.value % 100 === 0","value":34},"value":16}}},
"y":{"field":"s","type":"quantitative","stack":null,"scale":{"domain":[0,7.5],"nice":false,"zero":false},
"axis":{"title":"Speed","titleFont":"Liberation Serif","titleFontWeight":"bold","titleFontSize":72,"titleColor":"#00668c","titleAngle":-90,"titleBaseline":"middle","titleX":216,"titleY":703,"orient":"right","zindex":2,"grid":false,"values":[0,0.5,1,1.5,2,2.5,3,3.5,4,4.5,5,5.5,6,6.5,7,7.5],"labelExpr":"datum.value % 1 === 0 ? '' + datum.value : ''","labelFont":"Liberation Serif","labelFontWeight":"bold","labelFontSize":68,"labelColor":"#00668c","labelPadding":19,"labelOverlap":false,"labelBound":false,"labelFlush":false,"domainColor":"#00668c","domainWidth":5,"tickColor":"#00668c","tickWidth":5,"tickSize":{"condition":{"test":"datum.value % 1 === 0","value":34},"value":16}}}
},
"layer":[
{"data":{"name":"levels"},"mark":{"type":"area","orient":"vertical","interpolate":"monotone"},"encoding":{"detail":{"field":"l","type":"nominal"},"color":{"field":"l","type":"quantitative","legend":null,"scale":{"domain":[0,1000,2000,3000,3400,5000,6000,7000,8000,8800,10000,11000],"range":["#0000ff","#0045ff","#0095ff","#00e0ff","#00ffff","#00ffb0","#00ff70","#70ff30","#ccff00","#ffff00","#ffa000","#ff5000"]}}}},
{"data":{"name":"envelope"},"mark":{"type":"area","orient":"vertical","color":"white","interpolate":"monotone"},"encoding":{"y2":{"field":"s2"}}},
{"data":{"name":"gridH"},"mark":{"type":"rule","strokeWidth":4,"strokeDash":[4,10]},"encoding":{"x2":{"field":"t2"},"color":{"condition":{"test":"datum.s % 1 === 0","value":"#c4c4c4"},"value":"#e4e4e4"}}},
{"data":{"name":"gridV"},"mark":{"type":"rule","strokeWidth":4,"strokeDash":[4,10]},"encoding":{"y2":{"field":"s2"},"color":{"condition":{"test":"datum.t % 100 === 0","value":"#d0d0d0"},"value":"#e4e4e4"}}},
{"data":{"name":"contours"},"mark":{"type":"line","color":"black","strokeWidth":5,"interpolate":"monotone"},"encoding":{"detail":{"field":"seg","type":"nominal"}}},
{"data":{"name":"labels"},"mark":{"type":"text","color":"black","font":"Liberation Sans","fontSize":56},"encoding":{"text":{"field":"label"}}},
{"data":{"values":[{"t":342,"s":8.52,"label":"[rev/min]"},{"t":316.7,"s":7.97,"label":"x10"}]},"mark":{"type":"text","color":"#00668c","font":"Liberation Serif","fontWeight":"bold","fontSize":66},"encoding":{"text":{"field":"label"}}},
{"data":{"values":[{"t":342,"s":8.16,"label":"3"}]},"mark":{"type":"text","color":"#00668c","font":"Liberation Serif","fontWeight":"bold","fontSize":58},"encoding":{"text":{"field":"label"}}},
{"data":{"values":[{"t":350.7,"s":-0.414,"label":"[Nm]"}]},"mark":{"type":"text","color":"#ff0000","font":"Liberation Serif","fontWeight":"bold","fontSize":64},"encoding":{"text":{"field":"label"}}}
]}
